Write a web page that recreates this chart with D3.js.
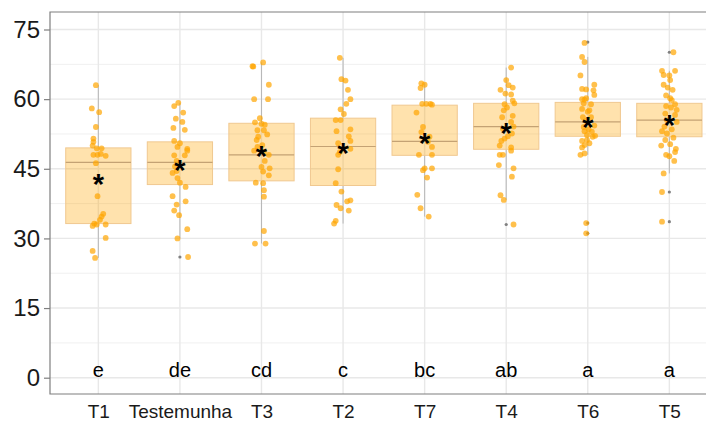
<!DOCTYPE html>
<html><head><meta charset="utf-8">
<script src="https://cdn.jsdelivr.net/npm/d3@7/dist/d3.min.js"></script>
<style>body{margin:0;background:#fff}svg{display:block}text{font-family:"Liberation Sans",Arial,sans-serif}</style>
</head><body><svg id="c" width="706" height="421"></svg>
<script>
const categories = ["T1","Testemunha","T3","T2","T7","T4","T6","T5"];
const letters = ["e","de","cd","c","bc","ab","a","a"];
const yTicks = [0,15,30,45,60,75];
const q1 = [33.2,41.6,42.4,41.4,47.9,49.2,52.0,51.9];
const medians = [46.4,46.4,48.0,49.8,50.9,54.1,55.1,55.5];
const q3 = [49.5,50.8,54.8,55.9,58.7,59.1,59.3,59.1];
const whiskerLow = [25.8,30.0,28.9,33.2,34.7,38.3,48.0,44.0];
const whiskerHigh = [63.0,59.2,67.9,68.9,63.4,66.8,69.1,66.1];
const means = [42.6,45.8,48.7,49.4,51.5,53.6,55.0,55.4];
const outliers = [[],[26.0],[],[],[],[33.0],[72.3,33.3,31.1],[70.1,40.0,33.6]];

const valuesT1 = [63.0,58.0,57.2,54.0,51.5,50.8,50.0,49.4,49.4,48.0,48.0,48.2,47.8,46.2,39.1,35.3,34.7,34.0,33.2,33.0,32.7,33.0,30.1,27.3,25.8];
const jitterT1 = [-0.03,-0.08,0.01,-0.03,-0.06,-0.06,-0.07,-0.02,0.04,-0.06,-0.01,0.03,0.09,-0.03,-0.01,0.06,0.04,0.02,-0.05,-0.02,-0.07,0.09,0.09,-0.07,-0.04];
const valuesTest = [58.5,59.2,57.1,55.8,55.1,53.8,53.4,51.0,50.5,49.7,49.3,48.9,47.9,47.9,46.7,45.5,44.1,44.5,43.0,42.0,41.1,39.1,38.0,37.3,36.0,35.0,32.0,30.0,26.0];
const jitterTest = [-0.07,-0.02,0.04,-0.05,0.03,-0.08,0.06,-0.07,0.00,-0.03,0.09,0.09,0.06,-0.07,-0.04,-0.06,-0.09,-0.04,-0.03,0.00,0.07,-0.09,0.07,-0.04,-0.07,-0.01,0.09,-0.03,0.10];
const valuesT3 = [67.0,67.1,67.9,63.1,60.0,60.0,55.9,55.0,54.7,54.5,53.3,53.3,52.4,51.9,51.2,50.1,49.7,48.9,48.7,48.0,46.7,45.4,45.1,44.4,43.6,42.0,41.9,40.4,39.0,31.6,28.9,28.9];
const jitterT3 = [-0.10,-0.11,0.02,0.09,-0.09,0.08,-0.02,-0.08,0.00,0.04,-0.05,0.03,0.07,-0.04,-0.06,0.01,-0.05,-0.09,0.03,0.09,0.04,0.00,0.10,0.02,0.09,-0.07,0.02,0.03,0.03,0.03,-0.08,0.05];
const valuesT2 = [68.9,64.3,64.0,62.0,60.0,59.0,57.8,56.8,55.5,55.5,53.5,53.1,52.0,51.0,50.5,49.3,48.6,48.0,44.9,41.9,40.1,38.2,38.0,37.2,36.5,36.0,33.8,33.2];
const jitterT2 = [-0.04,-0.02,0.03,0.06,0.09,0.04,-0.03,0.01,-0.09,-0.03,0.09,-0.08,0.07,0.09,-0.06,0.09,-0.04,-0.06,-0.06,-0.09,-0.02,0.09,0.05,-0.08,-0.03,0.07,-0.09,-0.11];
const valuesT7 = [63.4,63.1,62.4,59.0,59.0,59.0,58.8,57.1,54.0,52.9,51.9,50.8,49.7,48.0,48.0,45.1,44.7,45.1,43.1,39.4,36.5,34.7];
const jitterT7 = [-0.04,0.00,-0.05,-0.03,0.02,0.07,0.09,-0.10,-0.02,-0.04,0.06,0.04,0.09,-0.07,0.09,0.00,-0.02,0.09,0.03,-0.09,-0.05,0.05];
const valuesT4 = [66.8,64.1,63.0,62.0,62.5,61.2,61.0,59.7,59.1,58.9,58.2,57.6,56.4,56.1,55.1,54.1,53.6,52.6,52.0,51.5,51.0,50.0,49.6,48.9,48.0,48.0,45.8,45.1,43.3,39.3,38.3,33.0];
const jitterT4 = [0.06,0.00,0.03,-0.07,0.08,-0.01,0.06,0.08,0.10,-0.02,0.01,-0.03,0.08,-0.05,0.06,0.09,-0.04,0.07,0.02,-0.02,-0.06,-0.08,0.06,0.06,-0.08,-0.04,-0.09,0.09,0.07,-0.07,-0.03,0.09];
const valuesT6 = [72.1,69.1,68.0,65.1,63.1,62.2,62.1,61.9,60.9,60.0,60.2,59.1,58.9,57.9,57.3,56.1,56.1,55.3,54.3,53.5,53.1,52.1,52.3,53.0,51.0,50.5,50.1,48.3,48.0,33.3,31.1,59.9,57.6,54.0,51.9,51.2,49.6];
const jitterT6 = [-0.04,-0.07,-0.04,-0.09,0.08,-0.07,-0.02,0.07,0.08,-0.07,-0.02,-0.05,0.04,-0.07,0.00,-0.06,0.04,-0.02,0.08,0.01,-0.04,0.09,-0.01,0.05,-0.07,0.02,-0.04,-0.04,-0.09,-0.02,-0.02,-0.04,0.02,-0.05,0.06,-0.01,-0.07];
const valuesT5 = [70.1,66.1,66.1,65.2,65.1,64.1,63.1,62.5,62.0,60.8,60.2,59.8,58.9,58.5,58.2,57.7,56.9,56.6,55.5,55.1,54.1,53.5,53.1,52.6,51.7,51.2,50.0,50.3,49.3,48.0,48.6,47.7,46.7,44.0,40.0,33.6];
const jitterT5 = [0.05,-0.09,0.07,-0.07,0.00,0.01,-0.07,-0.02,0.04,-0.04,0.01,0.03,0.07,-0.04,0.02,0.09,-0.05,0.07,-0.03,0.09,-0.06,0.03,-0.09,-0.03,0.05,-0.05,-0.10,0.01,0.08,-0.04,0.07,0.00,0.06,-0.07,-0.09,-0.09];

const pointValues = [valuesT1,valuesTest,valuesT3,valuesT2,valuesT7,valuesT4,valuesT6,valuesT5];
const pointJitter = [jitterT1,jitterTest,jitterT3,jitterT2,jitterT7,jitterT4,jitterT6,jitterT5];

const panel = {left: 50, top: 12, bottom: 394, right: 706};
const svg = d3.select("#c");

const x = d3.scalePoint().domain(categories).range([49.4, 718.3]).padding(0.6);
const step = x.step();
const y = d3.scaleLinear().domain([0,75]).range([377.7, 29.5]);

// grid
const g = svg.append("g");
const minor = d3.range(7.5, 80, 15).filter(v => y(v) > panel.top);
g.selectAll(".minor").data(minor).join("line")
  .attr("x1", panel.left).attr("x2", panel.right)
  .attr("y1", d => y(d)).attr("y2", d => y(d))
  .attr("stroke", "#f0f0f0").attr("stroke-width", 1);
g.selectAll(".major").data(yTicks).join("line")
  .attr("x1", panel.left).attr("x2", panel.right)
  .attr("y1", d => y(d)).attr("y2", d => y(d))
  .attr("stroke", "#e8e8e8").attr("stroke-width", 1.4);
g.selectAll(".vmajor").data(categories).join("line")
  .attr("x1", d => x(d)).attr("x2", d => x(d))
  .attr("y1", panel.top).attr("y2", panel.bottom)
  .attr("stroke", "#e8e8e8").attr("stroke-width", 1.4);

// whiskers
categories.forEach((c, i) => {
  svg.append("line").attr("x1", x(c)).attr("x2", x(c))
    .attr("y1", y(q3[i])).attr("y2", y(whiskerHigh[i]))
    .attr("stroke", "#b8b8b8").attr("stroke-width", 1);
  svg.append("line").attr("x1", x(c)).attr("x2", x(c))
    .attr("y1", y(q1[i])).attr("y2", y(whiskerLow[i]))
    .attr("stroke", "#b8b8b8").attr("stroke-width", 1);
});

// boxes
const bw = step * 0.8;
categories.forEach((c, i) => {
  svg.append("rect")
    .attr("x", x(c) - bw/2).attr("width", bw)
    .attr("y", y(q3[i])).attr("height", y(q1[i]) - y(q3[i]))
    .attr("fill", "#ffa500").attr("fill-opacity", 0.32)
    .attr("stroke", "#f0c890").attr("stroke-width", 1);
  svg.append("line")
    .attr("x1", x(c) - bw/2).attr("x2", x(c) + bw/2)
    .attr("y1", y(medians[i])).attr("y2", y(medians[i]))
    .attr("stroke", "#c4a274").attr("stroke-width", 1.2);
});

// outliers
categories.forEach((c, i) => {
  svg.selectAll(null).data(outliers[i]).join("circle")
    .attr("cx", x(c)).attr("cy", d => y(d)).attr("r", 1.6)
    .attr("fill", "#808080");
});

// jittered points
categories.forEach((c, i) => {
  const pts = pointValues[i].map((v, k) => ({v, j: pointJitter[i][k]}));
  svg.selectAll(null).data(pts).join("circle")
    .attr("cx", d => x(c) + d.j * step).attr("cy", d => y(d.v)).attr("r", 2.9)
    .attr("fill", "#ffa500").attr("fill-opacity", 0.7);
});

// means
categories.forEach((c, i) => {
  svg.append("text").attr("x", x(c)).attr("y", y(means[i]) + 14.5)
    .attr("text-anchor", "middle").attr("font-size", 29).attr("font-weight", "bold")
    .attr("fill", "#000").text("*");
});

// letters
categories.forEach((c, i) => {
  svg.append("text").attr("x", x(c)).attr("y", y(0) - 1)
    .attr("text-anchor", "middle").attr("font-size", 20).attr("fill", "#000").text(letters[i]);
});

// panel border (left, top, bottom)
svg.append("path")
  .attr("d", `M${panel.right},${panel.top}H${panel.left}V${panel.bottom}H${panel.right}`)
  .attr("fill", "none").attr("stroke", "#7f7f7f").attr("stroke-width", 1.2);

// y axis
const yAxis = svg.append("g").attr("transform", `translate(${panel.left},0)`)
  .call(d3.axisLeft(y).tickValues(yTicks).tickSize(6).tickPadding(4));
yAxis.select(".domain").remove();
yAxis.selectAll(".tick line").attr("stroke", "#7f7f7f").attr("stroke-width", 1.2);
yAxis.selectAll(".tick text").attr("font-size", 24).attr("fill", "#1a1a1a")
  .attr("font-family", "Liberation Sans, Arial, sans-serif");

// x axis
const xAxis = svg.append("g").attr("transform", `translate(0,${panel.bottom})`)
  .call(d3.axisBottom(x).tickSize(0).tickPadding(11));
xAxis.select(".domain").remove();
xAxis.selectAll(".tick text").attr("font-size", 19).attr("fill", "#1a1a1a")
  .attr("font-family", "Liberation Sans, Arial, sans-serif");
</script></body></html>
